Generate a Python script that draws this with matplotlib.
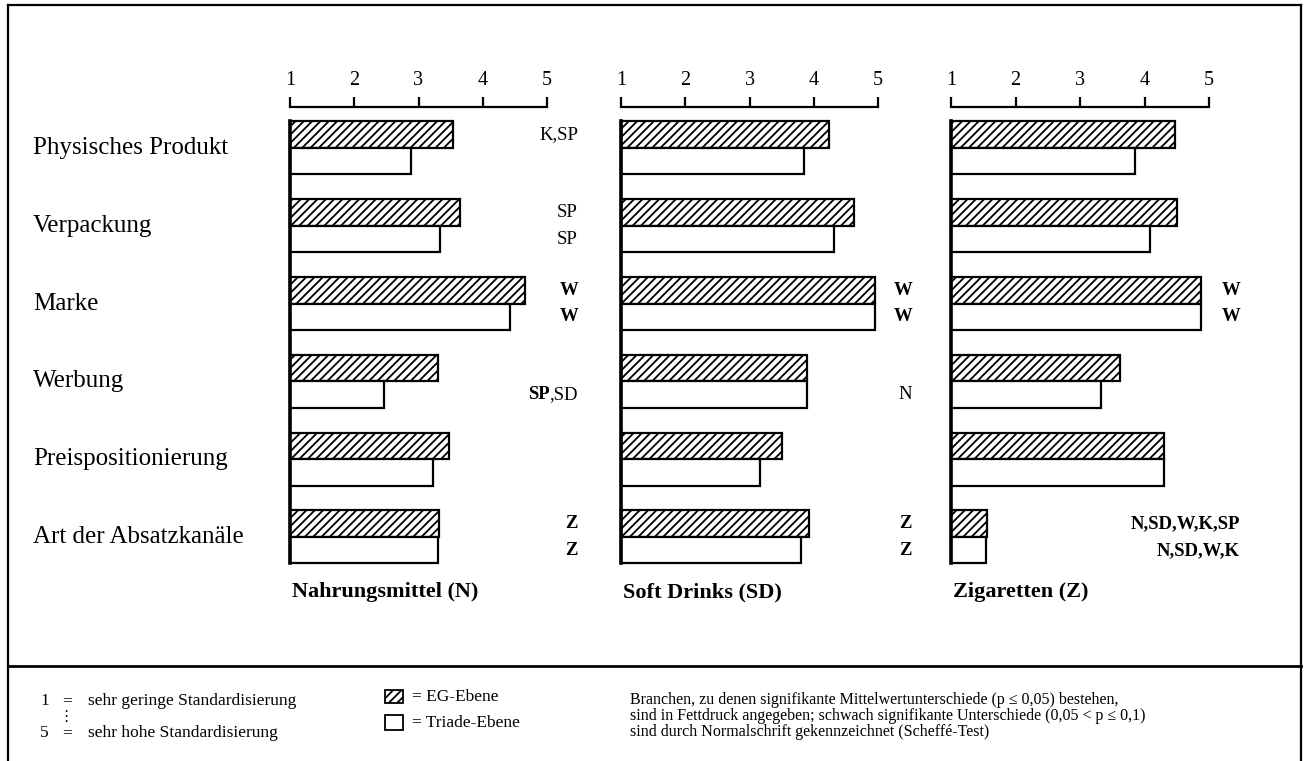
import matplotlib
matplotlib.use('Agg')
import matplotlib.pyplot as plt
from matplotlib.patches import Rectangle
from matplotlib.lines import Line2D
import matplotlib.transforms as mtransforms

plt.rcParams['font.family'] = ['Liberation Serif', 'DejaVu Serif']
plt.rcParams['hatch.linewidth'] = 1.3

# ---------------- data ----------------
categories = ["Physisches Produkt", "Verpackung", "Marke", "Werbung",
              "Preispositionierung", "Art der Absatzkanäle"]
panel_titles = ["Nahrungsmittel (N)", "Soft Drinks (SD)", "Zigaretten (Z)"]
tick_values = [1, 2, 3, 4, 5]

eg_N = [3.54, 3.64, 4.66, 3.31, 3.47, 3.32]
triade_N = [2.88, 3.34, 4.43, 2.47, 3.23, 3.30]
eg_SD = [4.24, 4.62, 4.95, 3.89, 3.51, 3.93]
triade_SD = [3.85, 4.31, 4.95, 3.89, 3.17, 3.80]
eg_Z = [4.48, 4.51, 4.87, 3.62, 4.31, 1.56]
triade_Z = [3.85, 4.08, 4.87, 3.32, 4.31, 1.54]

# (category index, level 0=EG / 1=Triade, bold part, normal part)
notes_N = [(0, 0, "", "K,SP"), (1, 0, "", "SP"), (1, 1, "", "SP"),
           (2, 0, "W", ""), (2, 1, "W", ""), (3, 1, "SP", ",SD"),
           (5, 0, "Z", ""), (5, 1, "Z", "")]
notes_SD = [(2, 0, "W", ""), (2, 1, "W", ""), (3, 1, "", "N"),
            (5, 0, "Z", ""), (5, 1, "Z", "")]
notes_Z = [(2, 0, "W", ""), (2, 1, "W", ""),
           (5, 0, "N,SD,W,K,SP", ""), (5, 1, "N,SD,W,K", "")]

legend_scale = [("1", "sehr geringe Standardisierung"),
                ("5", "sehr hohe Standardisierung")]
legend_levels = ["= EG-Ebene", "= Triade-Ebene"]
note_lines = ["Branchen, zu denen signifikante Mittelwertunterschiede (p ≤ 0,05) bestehen,",
              "sind in Fettdruck angegeben; schwach signifikante Unterschiede (0,05 < p ≤ 0,1)",
              "sind durch Normalschrift gekennzeichnet (Scheffé-Test)"]

panels = [(eg_N, triade_N, notes_N), (eg_SD, triade_SD, notes_SD),
          (eg_Z, triade_Z, notes_Z)]

# ---------------- layout (pixels) ----------------
W, H = 1306, 761
def fx(x):
    return x / W
def fy(y):
    return 1 - y / H

panel_x = [(290, 547), (621, 878), (951, 1209)]
note_right = [578, 912, 1240]
axis_top_px, axis_bot_px = 107, 563
c0_px, step_px = 148, 77.8
hb = 26.5 / step_px
HATCH = '////'

fig = plt.figure(figsize=(W / 100, H / 100), dpi=100)

axes = []
for p, ((x1, x5), (eg, tr, notes)) in enumerate(zip(panel_x, panels)):
    ax = fig.add_axes([fx(x1), fy(axis_bot_px), (x5 - x1) / W,
                       (axis_bot_px - axis_top_px) / H])
    axes.append(ax)
    ax.set_xlim(1, 5)
    ax.set_ylim((axis_bot_px - c0_px) / step_px, (axis_top_px - c0_px) / step_px)
    ax.patch.set_alpha(0)
    n = len(categories)
    ax.barh([k - hb / 2 for k in range(n)], [v - 1 for v in eg], left=1,
            height=hb, facecolor='white', edgecolor='black', hatch=HATCH,
            linewidth=1.6, clip_on=False)
    ax.barh([k + hb / 2 for k in range(n)], [v - 1 for v in tr], left=1,
            height=hb, facecolor='white', edgecolor='black',
            linewidth=1.6, clip_on=False)
    for s in ['right', 'bottom']:
        ax.spines[s].set_visible(False)
    ax.spines['top'].set_linewidth(1.6)
    ax.spines['left'].set_linewidth(2.6)
    ax.spines['left'].set_bounds(-hb, n - 1 + hb)
    ax.xaxis.tick_top()
    ax.set_xticks(tick_values)
    ax.set_xticklabels([str(t) for t in tick_values])
    ax.tick_params(axis='x', direction='out', length=7, width=1.6,
                   labelsize=14.5, pad=5)
    ax.set_yticks([])

    trans = mtransforms.blended_transform_factory(fig.transFigure, ax.transData)
    for (k, lev, bold, normal) in notes:
        y = k - hb / 2 if lev == 0 else k + hb / 2
        if normal:
            t = ax.text(fx(note_right[p]), y, normal, transform=trans,
                        ha='right', va='center', fontsize=13.5)
            if bold:
                ax.annotate(bold, xy=(0, 0), xycoords=t, ha='right',
                            va='bottom', fontsize=13.5, fontweight='bold')
        else:
            ax.text(fx(note_right[p]), y, bold, transform=trans,
                    ha='right', va='center', fontsize=13.5, fontweight='bold')

    fig.text(fx(x1 + 2), fy(592), panel_titles[p], fontsize=16,
             fontweight='bold', ha='left', va='center')

trans0 = mtransforms.blended_transform_factory(fig.transFigure, axes[0].transData)
for k, cat in enumerate(categories):
    axes[0].text(fx(33), k, cat, transform=trans0, ha='left', va='center',
                 fontsize=18)

# frame
lw_frame = 1.6
fig.add_artist(Line2D([fx(8), fx(8)], [fy(5), fy(761)], lw=lw_frame, color='black'))
fig.add_artist(Line2D([fx(1301), fx(1301)], [fy(5), fy(761)], lw=lw_frame, color='black'))
fig.add_artist(Line2D([fx(8), fx(1301)], [fy(5), fy(5)], lw=lw_frame, color='black'))
fig.add_artist(Line2D([fx(8), fx(1301)], [fy(666), fy(666)], lw=2.0, color='black'))

# legend
leg_fs = 12.5
for (num, txt), y in zip(legend_scale, [701, 733]):
    fig.text(fx(40), fy(y), num, fontsize=leg_fs, va='center', ha='left')
    fig.text(fx(62), fy(y), "=", fontsize=leg_fs, va='center', ha='left')
    fig.text(fx(88), fy(y), txt, fontsize=leg_fs, va='center', ha='left')
fig.text(fx(66), fy(717), "⋮", fontsize=11, va='center', ha='center',
         family=['DejaVu Sans', 'Noto Sans CJK JP', 'Noto Sans'])

fig.add_artist(Rectangle((fx(385), fy(703)), 18 / W, 13 / H,
                         transform=fig.transFigure, facecolor='white',
                         edgecolor='black', hatch=HATCH, lw=1.3))
fig.add_artist(Rectangle((fx(385), fy(730)), 18 / W, 15 / H,
                         transform=fig.transFigure, facecolor='white',
                         edgecolor='black', lw=1.3))
fig.text(fx(412), fy(697), legend_levels[0], fontsize=leg_fs, va='center', ha='left')
fig.text(fx(412), fy(723), legend_levels[1], fontsize=leg_fs, va='center', ha='left')

for line, y in zip(note_lines, [700, 716, 732]):
    fig.text(fx(630), fy(y), line, fontsize=11.5, va='center', ha='left')

fig.savefig('out.png', dpi=100)
